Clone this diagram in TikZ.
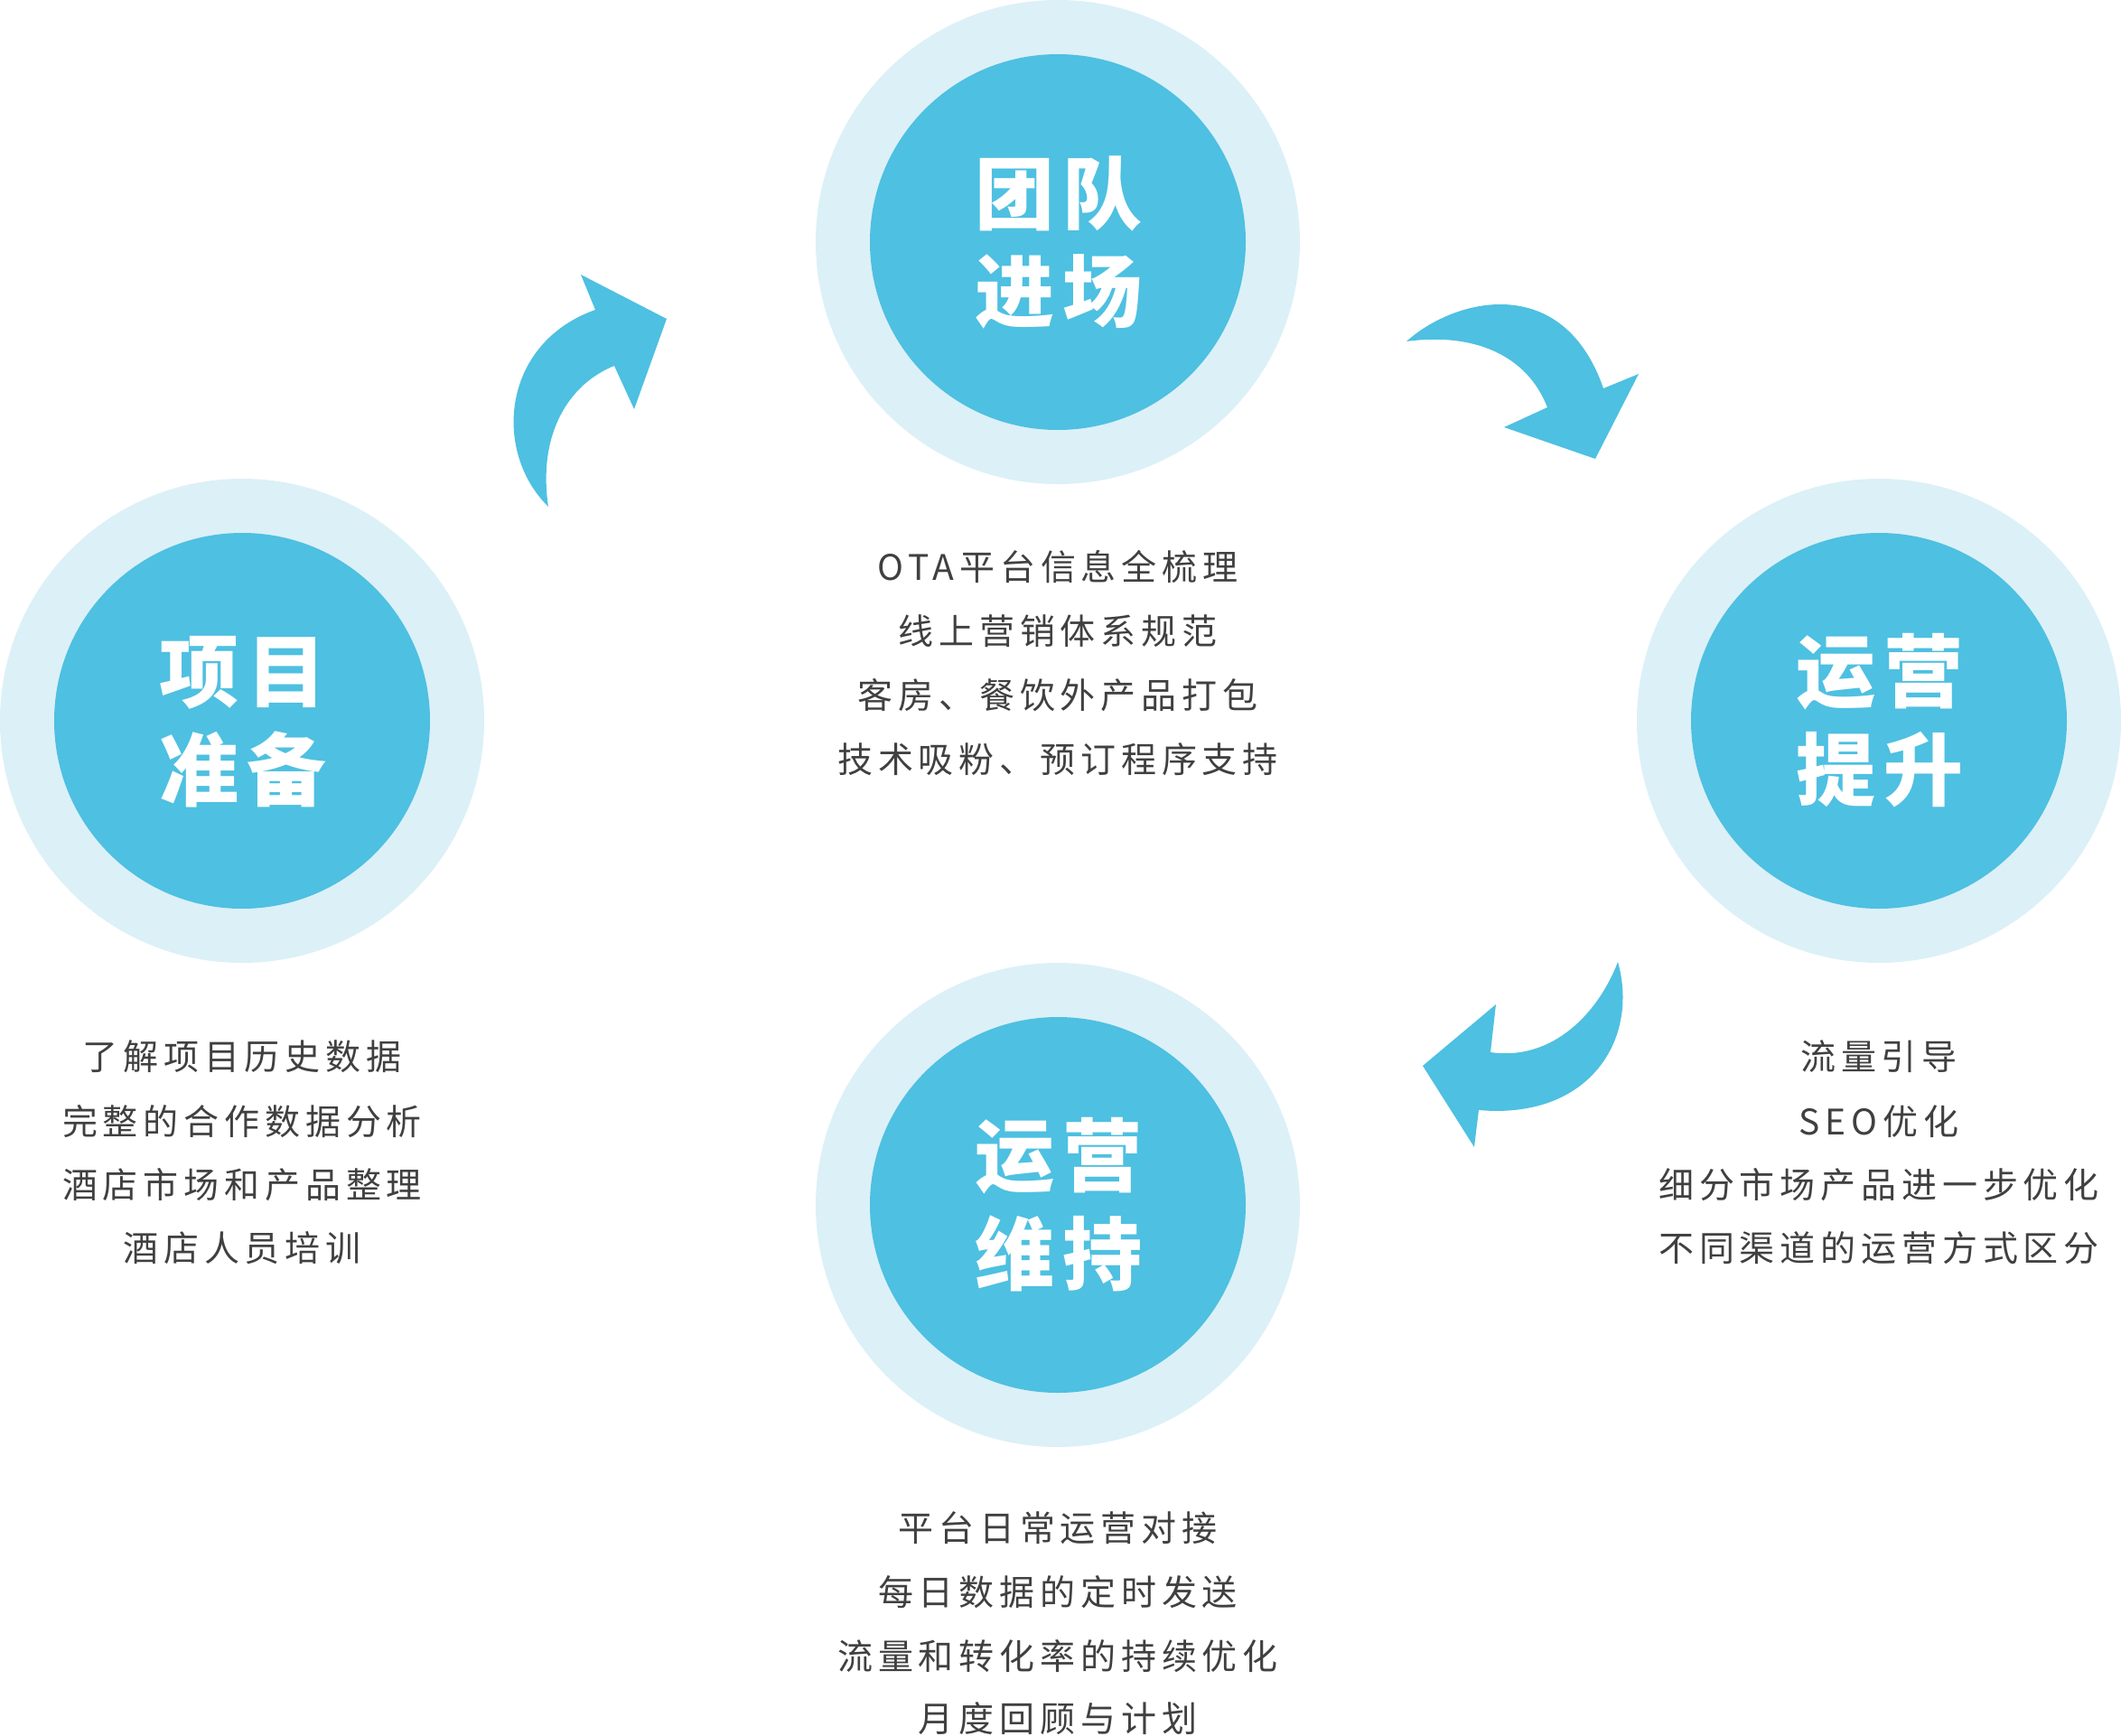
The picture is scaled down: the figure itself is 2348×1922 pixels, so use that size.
\documentclass[tikz,border=0pt]{standalone}
\usepackage{fontspec}
\newfontfamily\cjkbody[LetterSpace=15]{Noto Sans CJK SC}
\newfontfamily\cjktitle{Noto Sans CJK SC}
\definecolor{ring}{HTML}{DCF0F7}
\definecolor{disc}{HTML}{4EC0E1}
\definecolor{txt}{HTML}{404040}
\tikzset{
  outerring/.style={circle, fill=ring, draw=none, minimum size=536pt, inner sep=0pt},
  innerdisc/.style={circle, fill=disc, draw=none, minimum size=416pt, inner sep=0pt},
  titletext/.style={anchor=base, inner sep=0pt, text=white, font=\cjktitle\bfseries\fontsize{88}{88}\selectfont},
  bodytext/.style={anchor=base, inner sep=0pt, text=txt, font=\cjkbody\fontsize{39}{39}\selectfont},
  bigarrow/.style={fill=disc, draw=none}
}
\begin{document}
\begin{tikzpicture}[x=1pt,y=-1pt]
\useasboundingbox (0,0) rectangle (2348,1922);

% circles
\node[outerring] (topO) at (1171,268) {};
\node[innerdisc] (topI) at (1171,268) {};
\node[outerring] (leftO) at (268,798) {};
\node[innerdisc] (leftI) at (268,798) {};
\node[outerring] (rightO) at (2080,798) {};
\node[innerdisc] (rightI) at (2080,798) {};
\node[outerring] (botO) at (1171,1334) {};
\node[innerdisc] (botI) at (1171,1334) {};

% titles
\node[titletext] (t1a) at (1172,247) {团\hspace{10pt}队};
\node[titletext] (t1b) at (1172,355) {进\hspace{10pt}场};
\node[titletext] (t2a) at (269,776) {项\hspace{10pt}目};
\node[titletext] (t2b) at (269,885) {准\hspace{10pt}备};
\node[titletext] (t3a) at (2081,776) {运\hspace{10pt}营};
\node[titletext] (t3b) at (2081,885) {提\hspace{10pt}升};
\node[titletext] (t4a) at (1172,1312) {运\hspace{10pt}营};
\node[titletext] (t4b) at (1172,1421) {维\hspace{10pt}持};

% top texts
\node[bodytext] (a1) at (1171,642) {OTA平台信息全梳理};
\node[bodytext] (a2) at (1171,713) {线上营销体系规范};
\node[bodytext] (a3) at (1171,784) {客房、餐饮外产品打包};
\node[bodytext] (a4) at (1171,855) {技术吸粉、预订程序支持};

% left texts
\node[bodytext] (b1) at (268,1184) {了解项目历史数据};
\node[bodytext] (b2) at (268,1256) {完整的合作数据分析};
\node[bodytext] (b3) at (268,1326) {酒店市场和产品整理};
\node[bodytext] (b4) at (268,1396) {酒店人员培训};

% right texts
\node[bodytext] (c1) at (2080,1184) {流量引导};
\node[bodytext] (c2) at (2080,1256) {SEO优化};
\node[bodytext] (c3) at (2080,1326) {细分市场产品进一步优化};
\node[bodytext] (c4) at (2080,1396) {不同渠道的运营方式区分};

% bottom texts
\node[bodytext] (d1) at (1171,1706) {平台日常运营对接};
\node[bodytext] (d2) at (1171,1777) {每日数据的定时发送};
\node[bodytext] (d3) at (1171,1848) {流量和转化率的持续优化};
\node[bodytext] (d4) at (1171,1917) {月度回顾与计划};

% arrows
\fill[bigarrow] (607,561) .. controls (545,500) and (555,380) .. (659,343)
  -- (643,304) -- (738,353) -- (702,453) -- (680,405)
  .. controls (630,425) and (595,480) .. (607,561) -- cycle;
\fill[bigarrow] (1557,378) .. controls (1610,330) and (1730,300) .. (1775,430)
  -- (1814,414) -- (1766,508) -- (1665,473) -- (1713,451)
  .. controls (1690,392) and (1630,368) .. (1557,378) -- cycle;
\fill[bigarrow] (1791,1065) .. controls (1815,1150) and (1760,1240) .. (1637,1229)
  -- (1632,1270) -- (1575,1180) -- (1656,1112) -- (1650,1165)
  .. controls (1720,1175) and (1770,1120) .. (1791,1065) -- cycle;
\end{tikzpicture}
\end{document}
